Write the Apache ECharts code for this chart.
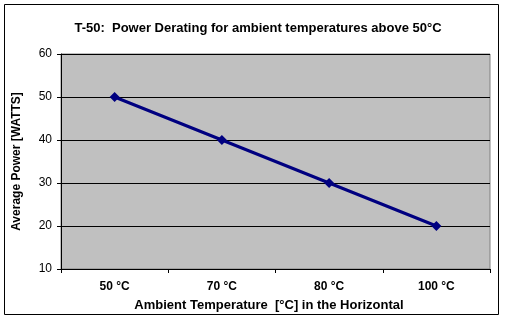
<!DOCTYPE html>
<html><head><meta charset="utf-8">
<script src="https://cdn.jsdelivr.net/npm/echarts@6/dist/echarts.min.js"></script>
<style>html,body{margin:0;padding:0;background:#fff}#c{width:519px;height:333px}</style>
</head><body><div id="c"></div>
<script>
const categories = ['50 °C', '70 °C', '80 °C', '100 °C'];
const power = [50, 40, 30, 20];
const yTicks = [10, 20, 30, 40, 50, 60];
const titleText = 'T-50:  Power Derating for ambient temperatures above 50°C';
const xName = 'Ambient Temperature  [°C] in the Horizontal';
const yName = 'Average Power [WATTS]';

const chart = echarts.init(document.getElementById('c'), null, {renderer: 'canvas'});
const F = 'Arial, "Liberation Sans", sans-serif';
chart.setOption({
  animation: false,
  backgroundColor: '#fff',
  title: {
    text: titleText, left: 253, top: 17, textAlign: 'center',
    textStyle: {fontFamily: F, fontSize: 13, fontWeight: 'bold', color: '#000'}
  },
  graphic: [{
    type: 'rect', shape: {x: 4.5, y: 4.5, width: 494, height: 310},
    style: {fill: 'none', stroke: '#000', lineWidth: 1}, silent: true, z: -1
  }],
  grid: {
    left: 61, right: 29, top: 54, bottom: 64,
    containLabel: false, outerBoundsMode: 'none',
    show: true, backgroundColor: '#C0C0C0', borderColor: '#808080', borderWidth: 1
  },
  xAxis: {
    type: 'category', data: categories, boundaryGap: true,
    name: xName, nameLocation: 'middle', nameGap: 30,
    nameTextStyle: {fontFamily: F, fontSize: 13, fontWeight: 'bold', color: '#000', padding: [0, 13, 0, 0]},
    axisLine: {lineStyle: {color: '#000', width: 1}},
    axisTick: {show: true, length: 4, alignWithLabel: false, lineStyle: {color: '#000'}},
    axisLabel: {fontFamily: F, fontSize: 12, fontWeight: 'bold', color: '#000', margin: 12},
    splitLine: {show: false}
  },
  yAxis: {
    type: 'value', min: yTicks[0], max: yTicks[yTicks.length - 1], interval: 10,
    name: yName, nameLocation: 'middle', nameGap: 38, nameRotate: 90,
    nameTextStyle: {fontFamily: F, fontSize: 12, fontWeight: 'bold', color: '#000'},
    axisLine: {show: true, lineStyle: {color: '#000', width: 1}},
    axisTick: {show: true, length: 4, lineStyle: {color: '#000'}},
    axisLabel: {fontFamily: F, fontSize: 12, color: '#000', margin: 9},
    splitLine: {show: true, lineStyle: {color: '#000', width: 1}}
  },
  series: [{
    type: 'line', data: power,
    lineStyle: {color: '#000080', width: 3},
    itemStyle: {color: '#000080'},
    symbol: 'diamond', symbolSize: 10, showSymbol: true
  }]
});
</script></body></html>
